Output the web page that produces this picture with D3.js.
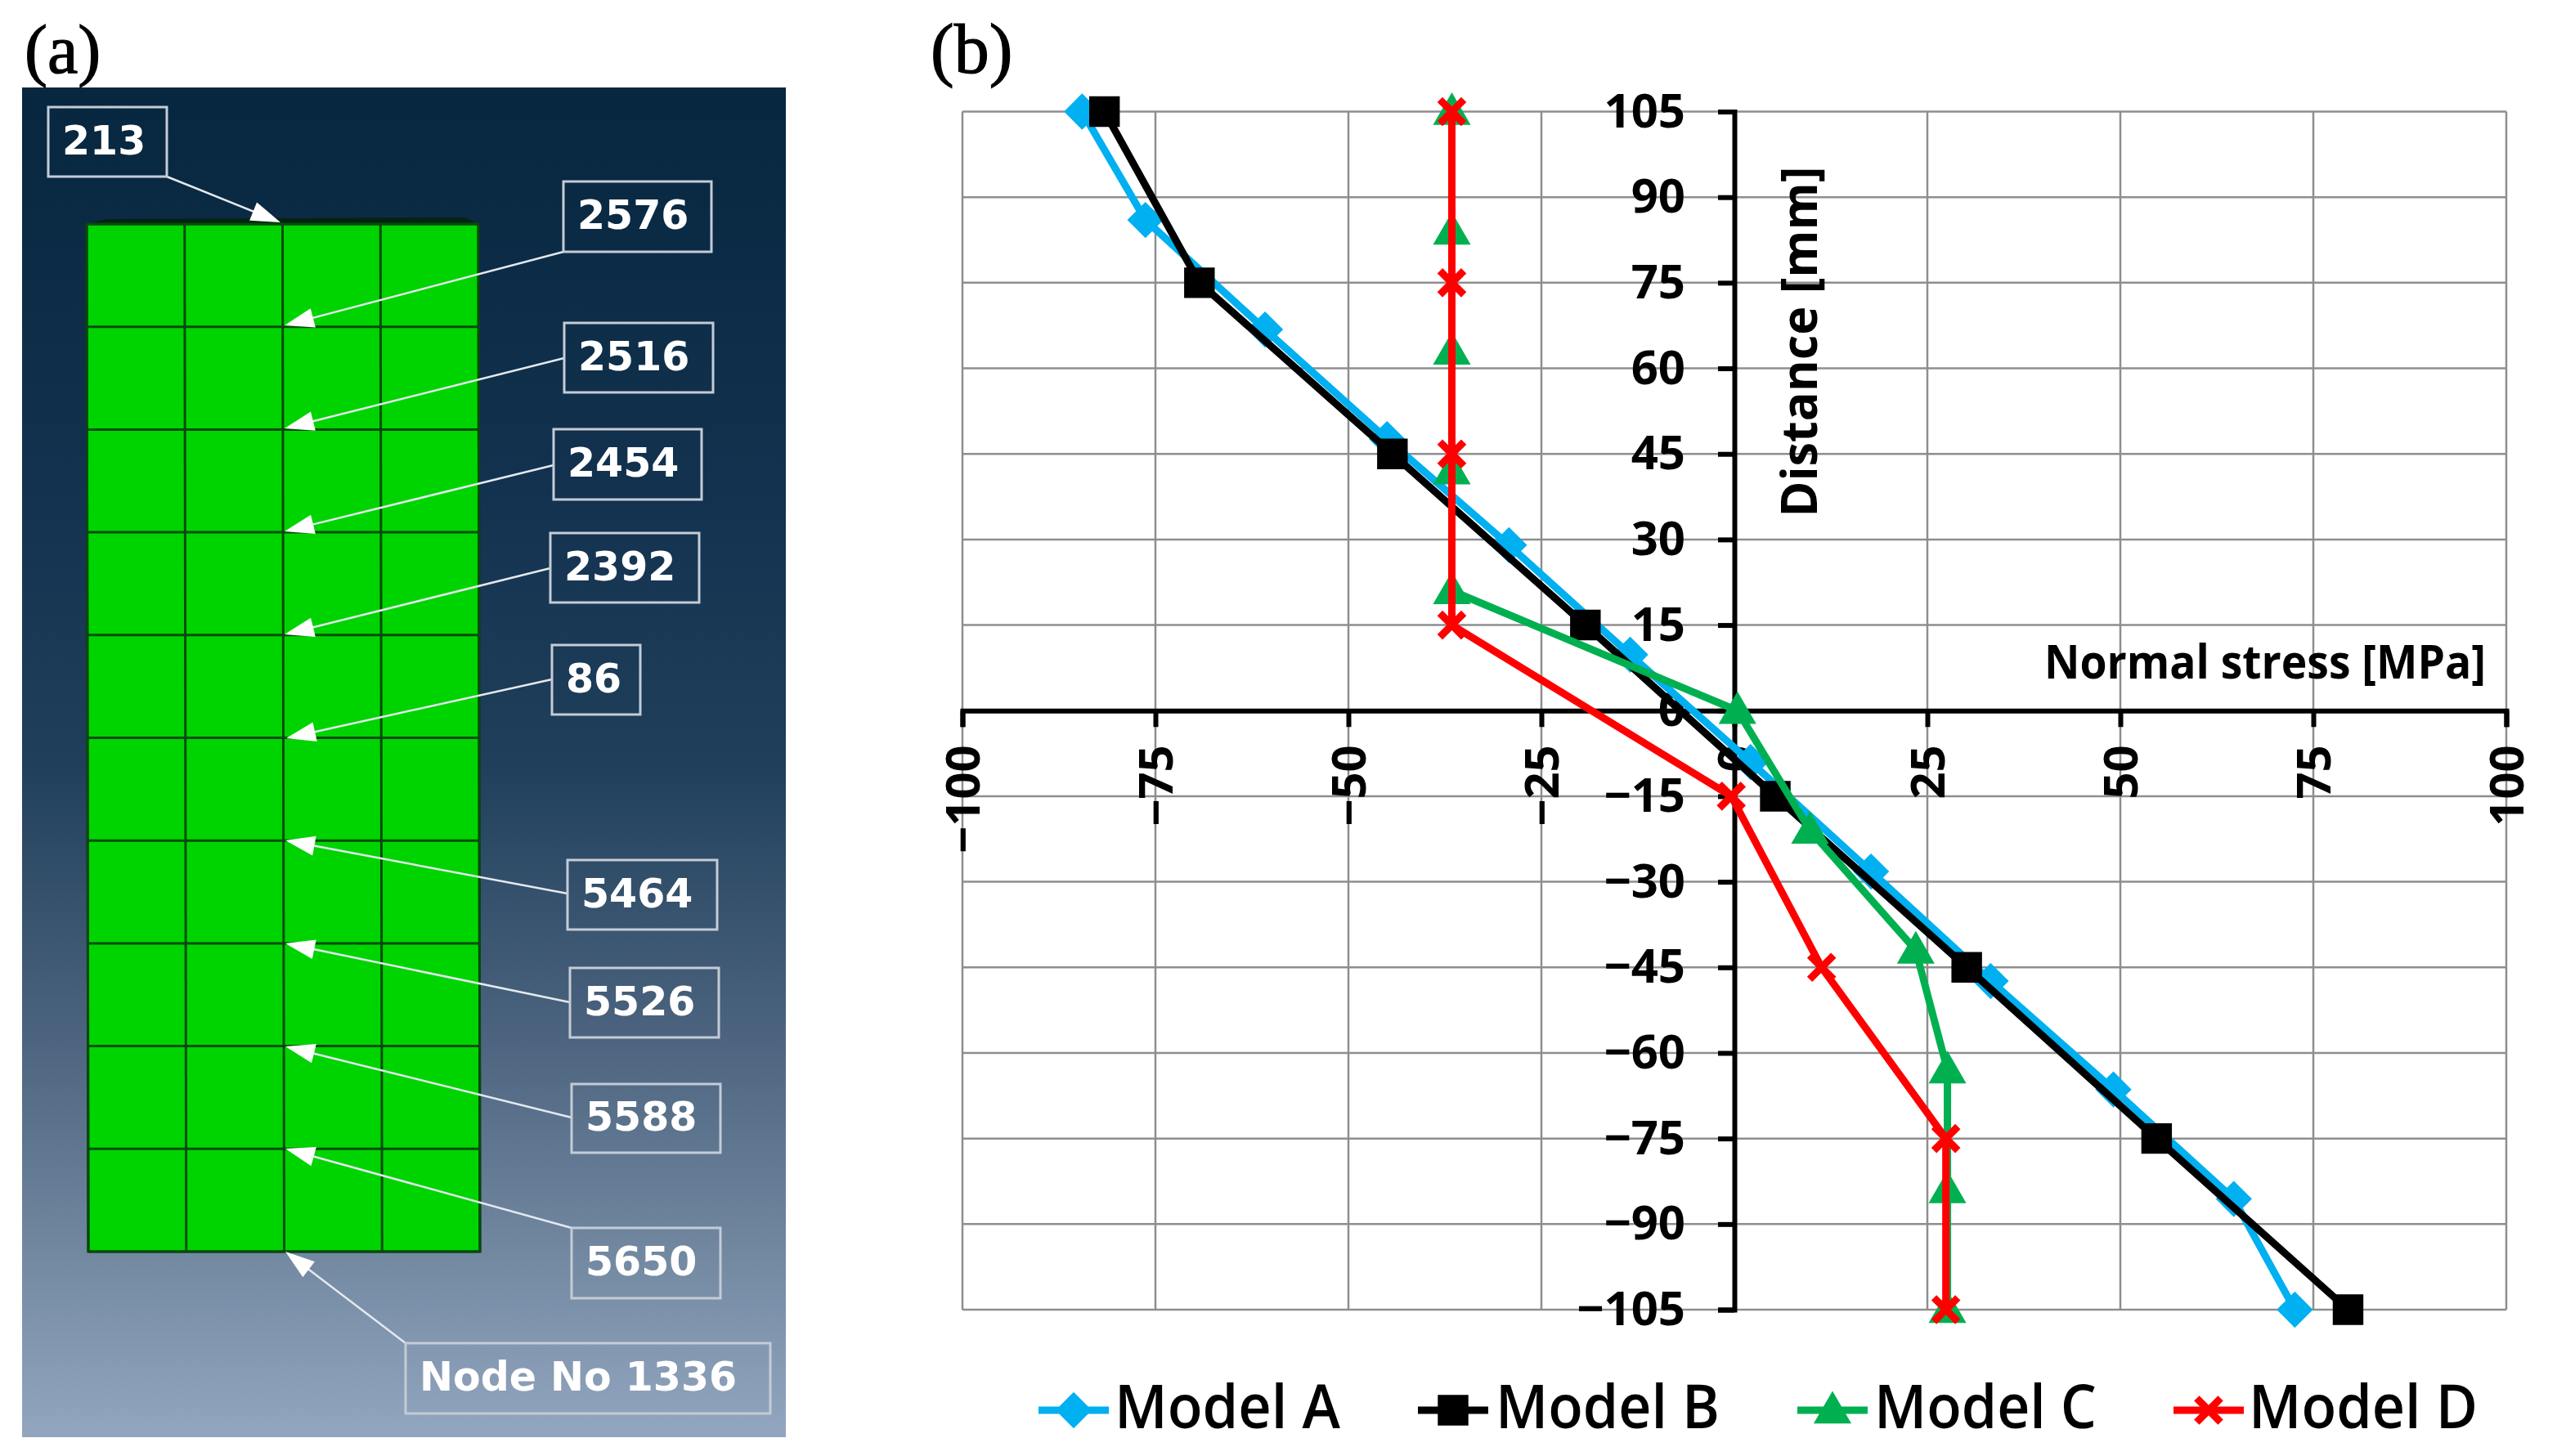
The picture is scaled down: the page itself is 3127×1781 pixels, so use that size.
<!DOCTYPE html>
<html><head><meta charset="utf-8">
<script src="https://cdnjs.cloudflare.com/ajax/libs/d3/7.8.5/d3.min.js"></script>
<style>html,body{margin:0;padding:0;background:#fff}svg{display:block}</style>
</head><body><svg id="c" width="3127" height="1781"></svg>
<script>
// ---- chart data ----
const xTicks = [-100,-75,-50,-25,0,25,50,75,100];
const yTicks = [105,90,75,60,45,30,15,0,-15,-30,-45,-60,-75,-90,-105];
const modelAy = [105,86,66.8,47.6,29,9.8,-9,-28.2,-47.4,-66.4,-85.6,-105];
const modelAx = [-84.5,-76.3,-60.8,-45,-29.2,-13.5,2.1,17.7,33.2,49.1,64.7,72.6];
const modelBy = [105,75,45,15,-15,-45,-75,-105];
const modelBx = [-81.6,-69.3,-44.3,-19.3,5.3,30.1,54.7,79.5];
const modelCy = [105,84,63,42,21,0,-21,-42,-63,-84,-105];
const modelCx = [-36.6,-36.6,-36.6,-36.6,-36.6,0.4,9.8,23.5,27.6,27.6,27.6];
const modelDy = [105,75,45,15,-15,-45,-75,-105];
const modelDx = [-36.6,-36.6,-36.6,-36.6,-0.4,11.3,27.4,27.4];
const modelNames = ["Model A","Model B","Model C","Model D"];
const nodeLabels = ["213","2576","2516","2454","2392","86","5464","5526","5588","5650","Node No 1336"];
const meshCols = [0,1,2,3,4];
const meshRows = [0,1,2,3,4,5,6,7,8,9,10];

// ---- layout ----
const svg = d3.select("#c");
const x = d3.scaleLinear().domain([-100,100]).range([1177,3065]);
const y = d3.scaleLinear().domain([-105,105]).range([1602,136.5]);
const sans = "'Open Sans'";
const seriesStyle = [
 {c:"#00b0f0", t:d3.symbolDiamond2, s:1250, dy:0},
 {c:"#000000", t:d3.symbolSquare, s:1400, dy:0},
 {c:"#00b050", t:d3.symbolTriangle, s:920, dy:3},
 {c:"#ff0000", t:d3.symbolX, s:560, dy:0}
];
const seriesData = [[modelAx,modelAy],[modelBx,modelBy],[modelCx,modelCy],[modelDx,modelDy]];
const legendLayout = [
 {lx:1270,tx:1363,tw:276},{lx:1734,tx:1829,tw:274},{lx:2198,tx:2292,tw:272},{lx:2658,tx:2750,tw:280}
];
const callLayout = [
 {b:[59,131,204,216],from:[204,216],tip:[343,272]},
 {b:[689,222,870,308],from:[689,308],tip:[348,398]},
 {b:[690,395,872,480],from:[690,438],tip:[348,524]},
 {b:[677,525,858,611],from:[677,569],tip:[348,650]},
 {b:[673,652,855,737],from:[673,695],tip:[348,776]},
 {b:[675,789,783,874],from:[675,831],tip:[350,903]},
 {b:[694,1052,877,1137],from:[694,1093],tip:[349,1028]},
 {b:[697,1184,879,1269],from:[697,1226],tip:[349,1154]},
 {b:[699,1326,881,1410],from:[699,1367],tip:[349,1280]},
 {b:[699,1502,881,1588],from:[699,1502],tip:[349,1405]},
 {b:[496,1643,942,1729],from:[496,1643],tip:[349,1531]}
];

// ---- panel (a) ----
const defs = svg.append("defs");
const grad = defs.append("linearGradient").attr("id","bg").attr("x1",0).attr("x2",0).attr("y1",0).attr("y2",1);
[[0,"#07263f"],[0.3,"#12324f"],[0.5,"#1f3f5b"],[0.7,"#4b637e"],[0.85,"#6f859e"],[1,"#93a6c0"]]
 .forEach(d=>grad.append("stop").attr("offset",d[0]).attr("stop-color",d[1]));
svg.append("rect").attr("x",27).attr("y",107).attr("width",934).attr("height",1651).attr("fill","url(#bg)");

const rowY = d3.scaleLinear().domain([0,10]).range([274,1531]);
const colX = (c,r)=> d3.scaleLinear().domain([0,4]).range([106+r*0.2,585+r*0.2])(c);
const pa = svg.append("g");
pa.append("path").attr("d","M106,274L131,268L568,266L585,274Z").attr("fill","#04240f");
pa.append("path")
 .attr("d",`M${colX(0,0)},${rowY(0)}L${colX(4,0)},${rowY(0)}L${colX(4,10)},${rowY(10)}L${colX(0,10)},${rowY(10)}Z`)
 .attr("fill","#00d400").attr("stroke","#0a3a12").attr("stroke-width",3);
pa.selectAll("line.r").data(meshRows).join("line").attr("class","r")
 .attr("x1",r=>colX(0,r)).attr("x2",r=>colX(4,r)).attr("y1",rowY).attr("y2",rowY)
 .attr("stroke","#064a0c").attr("stroke-width",3);
pa.selectAll("line.c").data(meshCols).join("line").attr("class","c")
 .attr("x1",c=>colX(c,0)).attr("x2",c=>colX(c,10)).attr("y1",rowY(0)).attr("y2",rowY(10))
 .attr("stroke","#064a0c").attr("stroke-width",3);

const calls = pa.selectAll("g.call").data(nodeLabels).join("g").attr("class","call");
calls.each(function(lab,i){
  const g=d3.select(this), L=callLayout[i], [x0,y0,x1,y1]=L.b, [fx,fy]=L.from, [tx,ty]=L.tip;
  const dx=fx-tx, dy=fy-ty, n=Math.hypot(dx,dy), ux=dx/n, uy=dy/n, al=36, aw=12;
  g.append("line").attr("x1",fx).attr("y1",fy).attr("x2",tx+ux*al*0.8).attr("y2",ty+uy*al*0.8)
   .attr("stroke","#e4e9ee").attr("stroke-width",2.5);
  const bx=tx+ux*al, by=ty+uy*al;
  g.append("path").attr("d",`M${tx},${ty}L${bx-uy*aw},${by+ux*aw}L${bx+uy*aw},${by-ux*aw}Z`).attr("fill","#fff");
  g.append("rect").attr("x",x0).attr("y",y0).attr("width",x1-x0).attr("height",y1-y0)
   .attr("fill","none").attr("stroke","#c4ccd6").attr("stroke-width",3);
  g.append("text").attr("x",x0+17).attr("y",(y0+y1)/2+15).text(lab)
   .attr("font-family","'DejaVu Sans'").attr("font-weight",700).attr("font-size",49).attr("fill","#fff");
});

// panel letters
svg.append("text").attr("x",30).attr("y",89).text("(a)")
 .attr("font-family","'Liberation Serif'").attr("font-size",84).attr("stroke","#000").attr("stroke-width",1.2);
svg.append("text").attr("x",1138).attr("y",89).text("(b)")
 .attr("font-family","'Liberation Serif'").attr("font-size",86).attr("stroke","#000").attr("stroke-width",1.2);

// ---- panel (b) ----
const grid = svg.append("g").attr("stroke","#8e8e8e").attr("stroke-width",2.5);
grid.selectAll("line.v").data(xTicks).join("line").attr("class","v")
 .attr("x1",x).attr("x2",x).attr("y1",y(105)).attr("y2",y(-105));
grid.selectAll("line.h").data(yTicks).join("line").attr("class","h")
 .attr("y1",y).attr("y2",y).attr("x1",x(-100)).attr("x2",x(100));

const fmt = d=> d<0 ? "\u2212"+Math.abs(d) : String(d);
const axX = svg.append("g").attr("transform",`translate(0,${y(0)})`)
 .call(d3.axisBottom(x).tickValues(xTicks).tickSizeOuter(0).tickSize(20).tickFormat(fmt));
axX.selectAll("text").attr("transform","rotate(-90)").attr("text-anchor","end")
 .attr("x",-42).attr("y",0).attr("dy","0.36em");
const axY = svg.append("g").attr("transform",`translate(${x(0)},0)`)
 .call(d3.axisLeft(y).tickValues(yTicks).tickSizeOuter(0).tickSize(20).tickPadding(40).tickFormat(fmt));
[axX,axY].forEach(a=>{
  a.selectAll("path,line").attr("stroke","#000").attr("stroke-width",6);
  a.selectAll("text").attr("font-family",sans).attr("font-weight",700).attr("font-size",58).attr("fill","#000");
});

svg.append("text").attr("x",3040).attr("y",830).attr("text-anchor","end").text("Normal stress [MPa]")
 .attr("font-family",sans).attr("font-weight",700).attr("font-size",58)
 .attr("textLength",540).attr("lengthAdjust","spacingAndGlyphs");
svg.append("text").attr("transform","translate(2222,418) rotate(-90)").attr("text-anchor","middle").text("Distance [mm]")
 .attr("font-family",sans).attr("font-weight",700).attr("font-size",60)
 .attr("textLength",429).attr("lengthAdjust","spacingAndGlyphs");

const lineGen = d3.line().x(d=>x(d[0])).y(d=>y(d[1]));
function drawMark(sel,st,px,py){
  const isX = st.t===d3.symbolX;
  sel.append("path").attr("d",d3.symbol().type(st.t).size(st.s)()).attr("transform",`translate(${px},${py+st.dy})`)
   .attr("fill",isX?"none":st.c).attr("stroke",isX?st.c:"none").attr("stroke-width",isX?9:0);
}
seriesData.forEach(([xs,ys],i)=>{
  const st=seriesStyle[i], pts=xs.map((v,k)=>[v,ys[k]]), g=svg.append("g");
  g.append("path").attr("d",lineGen(pts)).attr("fill","none").attr("stroke",st.c).attr("stroke-width",9).attr("stroke-linejoin","round");
  pts.forEach(p=>drawMark(g,st,x(p[0]),y(p[1])));
});

// ---- legend ----
modelNames.forEach((name,i)=>{
  const L=legendLayout[i], st=seriesStyle[i], g=svg.append("g");
  g.append("line").attr("x1",L.lx).attr("x2",L.lx+86).attr("y1",1725).attr("y2",1725).attr("stroke",st.c).attr("stroke-width",9);
  drawMark(g,st,L.lx+43,1725);
  g.append("text").attr("x",L.tx).attr("y",1747).text(name)
   .attr("font-family",sans).attr("font-weight",600).attr("font-size",74)
   .attr("textLength",L.tw).attr("lengthAdjust","spacingAndGlyphs");
});
</script></body></html>
